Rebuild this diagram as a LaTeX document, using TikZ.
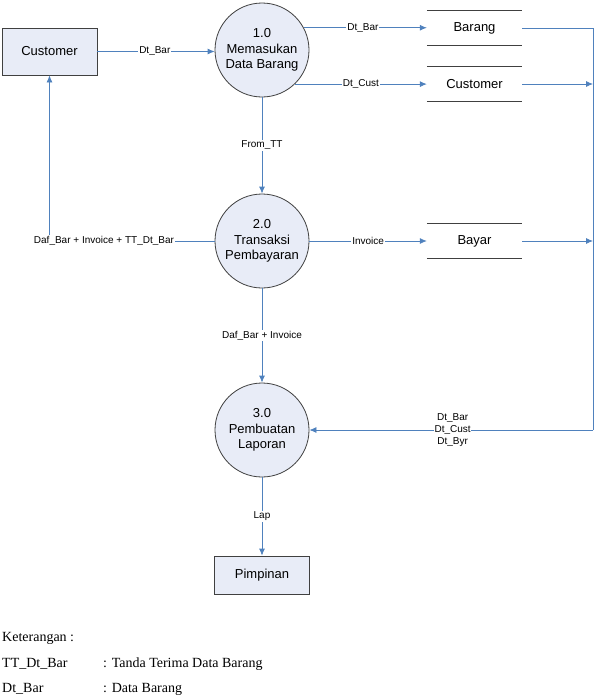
\documentclass[tikz,border=0pt]{standalone}
\usepackage{fontspec}
\setmainfont{Liberation Sans}
\newfontfamily\legendfont{Liberation Serif}
\usetikzlibrary{arrows.meta}
\definecolor{flow}{RGB}{79,129,189}
\definecolor{boxfill}{RGB}{232,236,247}
\definecolor{edgegray}{RGB}{64,64,64}
\tikzset{
  ext/.style={draw=edgegray, line width=0.8pt, fill=boxfill, minimum width=95pt, minimum height=47pt, inner sep=0pt, font=\fontsize{13}{15.5}\selectfont},
  proc/.style={circle, draw=edgegray, line width=0.8pt, fill=boxfill, minimum size=94pt, inner sep=0pt, align=center, font=\fontsize{13}{15.5}\selectfont},
  store/.style={minimum width=95pt, minimum height=35pt, inner sep=0pt, font=\fontsize{13}{15.5}\selectfont},
  flowline/.style={draw=flow, line width=0.8pt},
  flowarr/.style={flowline, -{Latex[length=7pt,width=6pt]}},
  lbl/.style={fill=white, inner sep=1pt, font=\fontsize{10}{12}\selectfont, align=center},
  legend/.style={anchor=west, inner sep=0pt, font=\legendfont\fontsize{14}{16}\selectfont}
}
\begin{document}
\begin{tikzpicture}[x=1pt,y=-1pt]
\useasboundingbox (0,0) rectangle (597,699);
% nodes
\node[ext] (cust) at (49.5,51.5) {Customer};
\node[proc] (p1) at (262,50) {1.0\\Memasukan\\Data Barang};
\node[proc] (p2) at (262,241) {2.0\\Transaksi\\Pembayaran};
\node[proc] (p3) at (262,430) {3.0\\Pembuatan\\Laporan};
\node[ext, minimum height=38pt] (pimp) at (262,575) {Pimpinan};
\node[store] (barang) at (474.5,28) {Barang};
\node[store] (cstore) at (474.5,84) {Customer};
\node[store] (bayar) at (474.5,241) {Bayar};
\foreach \s in {barang,cstore,bayar}{
  \draw[edgegray, line width=0.8pt] (\s.north west) -- (\s.north east);
  \draw[edgegray, line width=0.8pt] (\s.south west) -- (\s.south east);
}
\coordinate (bt) at (593,28);
\coordinate (bb) at (593,430);
\coordinate (lc) at (cust.south |- p2.west);
% flows
\draw[flowarr] (cust.east) -- node[lbl, pos=0.49] {Dt\_Bar} (cust.east -| p1.west);
\draw[flowarr] (p1.28) -- node[lbl, pos=0.48] {Dt\_Bar} (p1.28 -| barang.west);
\draw[flowarr] (p1.-46) -- node[lbl, pos=0.5] {Dt\_Cust} (p1.-46 -| cstore.west);
\draw[flowarr] (p1.south) -- node[lbl, pos=0.5] {From\_TT} (p2.north);
\draw[flowarr] (p2.west) -- node[lbl, pos=0.67] {Daf\_Bar + Invoice + TT\_Dt\_Bar} (lc) -- (cust.south);
\draw[flowarr] (p2.east) -- node[lbl, pos=0.5] {Invoice} (bayar.west);
\draw[flowarr] (p2.south) -- node[lbl, pos=0.5] {Daf\_Bar + Invoice} (p3.north);
\draw[flowarr] (p3.south) -- node[lbl, pos=0.5] {Lap} (pimp.north);
\draw[flowline] (barang.east) -- (bt) -- (bb);
\draw[flowarr] (cstore.east) -- (cstore.east -| bt);
\draw[flowarr] (bayar.east) -- (bayar.east -| bt);
\draw[flowarr] (bb) -- node[lbl, pos=0.495, inner sep=0.5pt] {Dt\_Bar\\Dt\_Cust\\Dt\_Byr} (p3.east);
% legend
\node[legend] (k0) at (2,638) {Keterangan :};
\node[legend] (k1) at (2,664) {TT\_Dt\_Bar};
\node[legend] (k1b) at (103,664) {: Tanda Terima Data Barang};
\node[legend] (k2) at (2,689) {Dt\_Bar};
\node[legend] (k2b) at (103,689) {: Data Barang};
\end{tikzpicture}
\end{document}
